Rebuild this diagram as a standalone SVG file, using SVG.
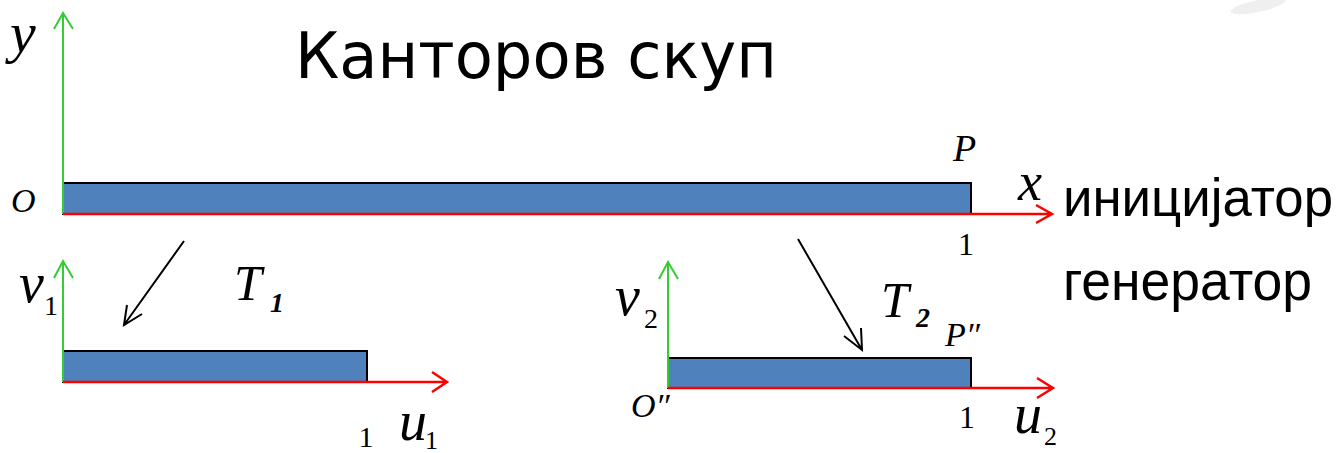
<svg xmlns="http://www.w3.org/2000/svg" width="1342" height="453" viewBox="0 0 1342 453">
<style>
.bar{fill:#4f81bd;stroke:#000;stroke-width:2}
.ax{fill:none;stroke:#ff0000;stroke-width:2.5}
.ay{fill:none;stroke:#33cc33;stroke-width:2}
.ar{fill:none;stroke:#000;stroke-width:2}
.it{font-family:"Liberation Serif",serif;font-style:italic;fill:#000}
.rm{font-family:"Liberation Serif",serif;fill:#000}
.ss{font-family:"Liberation Sans",Arial,sans-serif;fill:#000}
.dv{font-family:"DejaVu Sans",Verdana,sans-serif;fill:#000}
</style>
<rect width="1342" height="453" fill="#fff"/>
<ellipse cx="1258" cy="6" rx="28" ry="6" fill="#e4e4e4" opacity="0.6" transform="rotate(-12 1258 6)"/>
<text class="dv" x="295" y="78" font-size="64" textLength="482" lengthAdjust="spacingAndGlyphs">Канторов скуп</text>

<g id="initiator">
<rect class="bar" x="63" y="183" width="908" height="31"/>
<path class="ay" d="M63,214 V13 M54,29 L63,13 L73,29"/>
<path class="ax" d="M63,214 H1052 M1036,205 L1052,214 L1036,223"/>
<text class="it" x="10" y="52" font-size="58">y</text>
<text class="it" x="11" y="212" font-size="34">O</text>
<text class="it" x="953" y="161" font-size="38">P</text>
<text class="it" x="1018" y="200" font-size="54">x</text>
<text class="rm" x="966" y="255" font-size="32" text-anchor="middle">1</text>
<text class="ss" x="1063" y="216" font-size="53" textLength="270" lengthAdjust="spacingAndGlyphs">иницијатор</text>
</g>

<g id="gen1">
<rect class="bar" x="63" y="351" width="304" height="31"/>
<path class="ay" d="M63,382 V261 M54,278 L63,261 L73,278"/>
<path class="ax" d="M63,382 H447 M432,372 L447,382 L432,392"/>
<text class="it" x="19" y="302" font-size="56">v</text>
<text class="rm" x="44" y="315" font-size="28">1</text>
<text class="it" x="234" y="300" font-size="50">T</text>
<text class="it" x="270" y="312" font-size="28" font-weight="bold">1</text>
<text class="rm" x="366" y="447" font-size="30" text-anchor="middle">1</text>
<text class="it" x="399" y="440" font-size="56">u</text>
<text class="rm" x="425" y="449" font-size="26">1</text>
</g>

<g id="gen2">
<rect class="bar" x="668" y="358" width="303" height="30"/>
<path class="ay" d="M668,388 V262 M659,279 L668,262 L678,279"/>
<path class="ax" d="M668,388 H1053 M1037,378 L1053,388 L1037,398"/>
<text class="it" x="615" y="315" font-size="56">v</text>
<text class="rm" x="644" y="328" font-size="28">2</text>
<text class="it" x="881" y="317" font-size="50">T</text>
<text class="it" x="916" y="327" font-size="28" font-weight="bold">2</text>
<text class="it" x="945" y="346" font-size="34">P″</text>
<text class="it" x="631" y="417" font-size="34">O″</text>
<text class="rm" x="967" y="428" font-size="32" text-anchor="middle">1</text>
<text class="it" x="1014" y="433" font-size="56">u</text>
<text class="rm" x="1044" y="445" font-size="26">2</text>
<text class="ss" x="1063" y="300" font-size="55" textLength="249" lengthAdjust="spacingAndGlyphs">генератор</text>
</g>

<g id="connectors">
<path class="ar" d="M184,241 L124,325 M127,305 L124,325 L142,314"/>
<path class="ar" d="M798,239 L862,350 M844,336 L862,350 L861,328"/>
</g>
</svg>
